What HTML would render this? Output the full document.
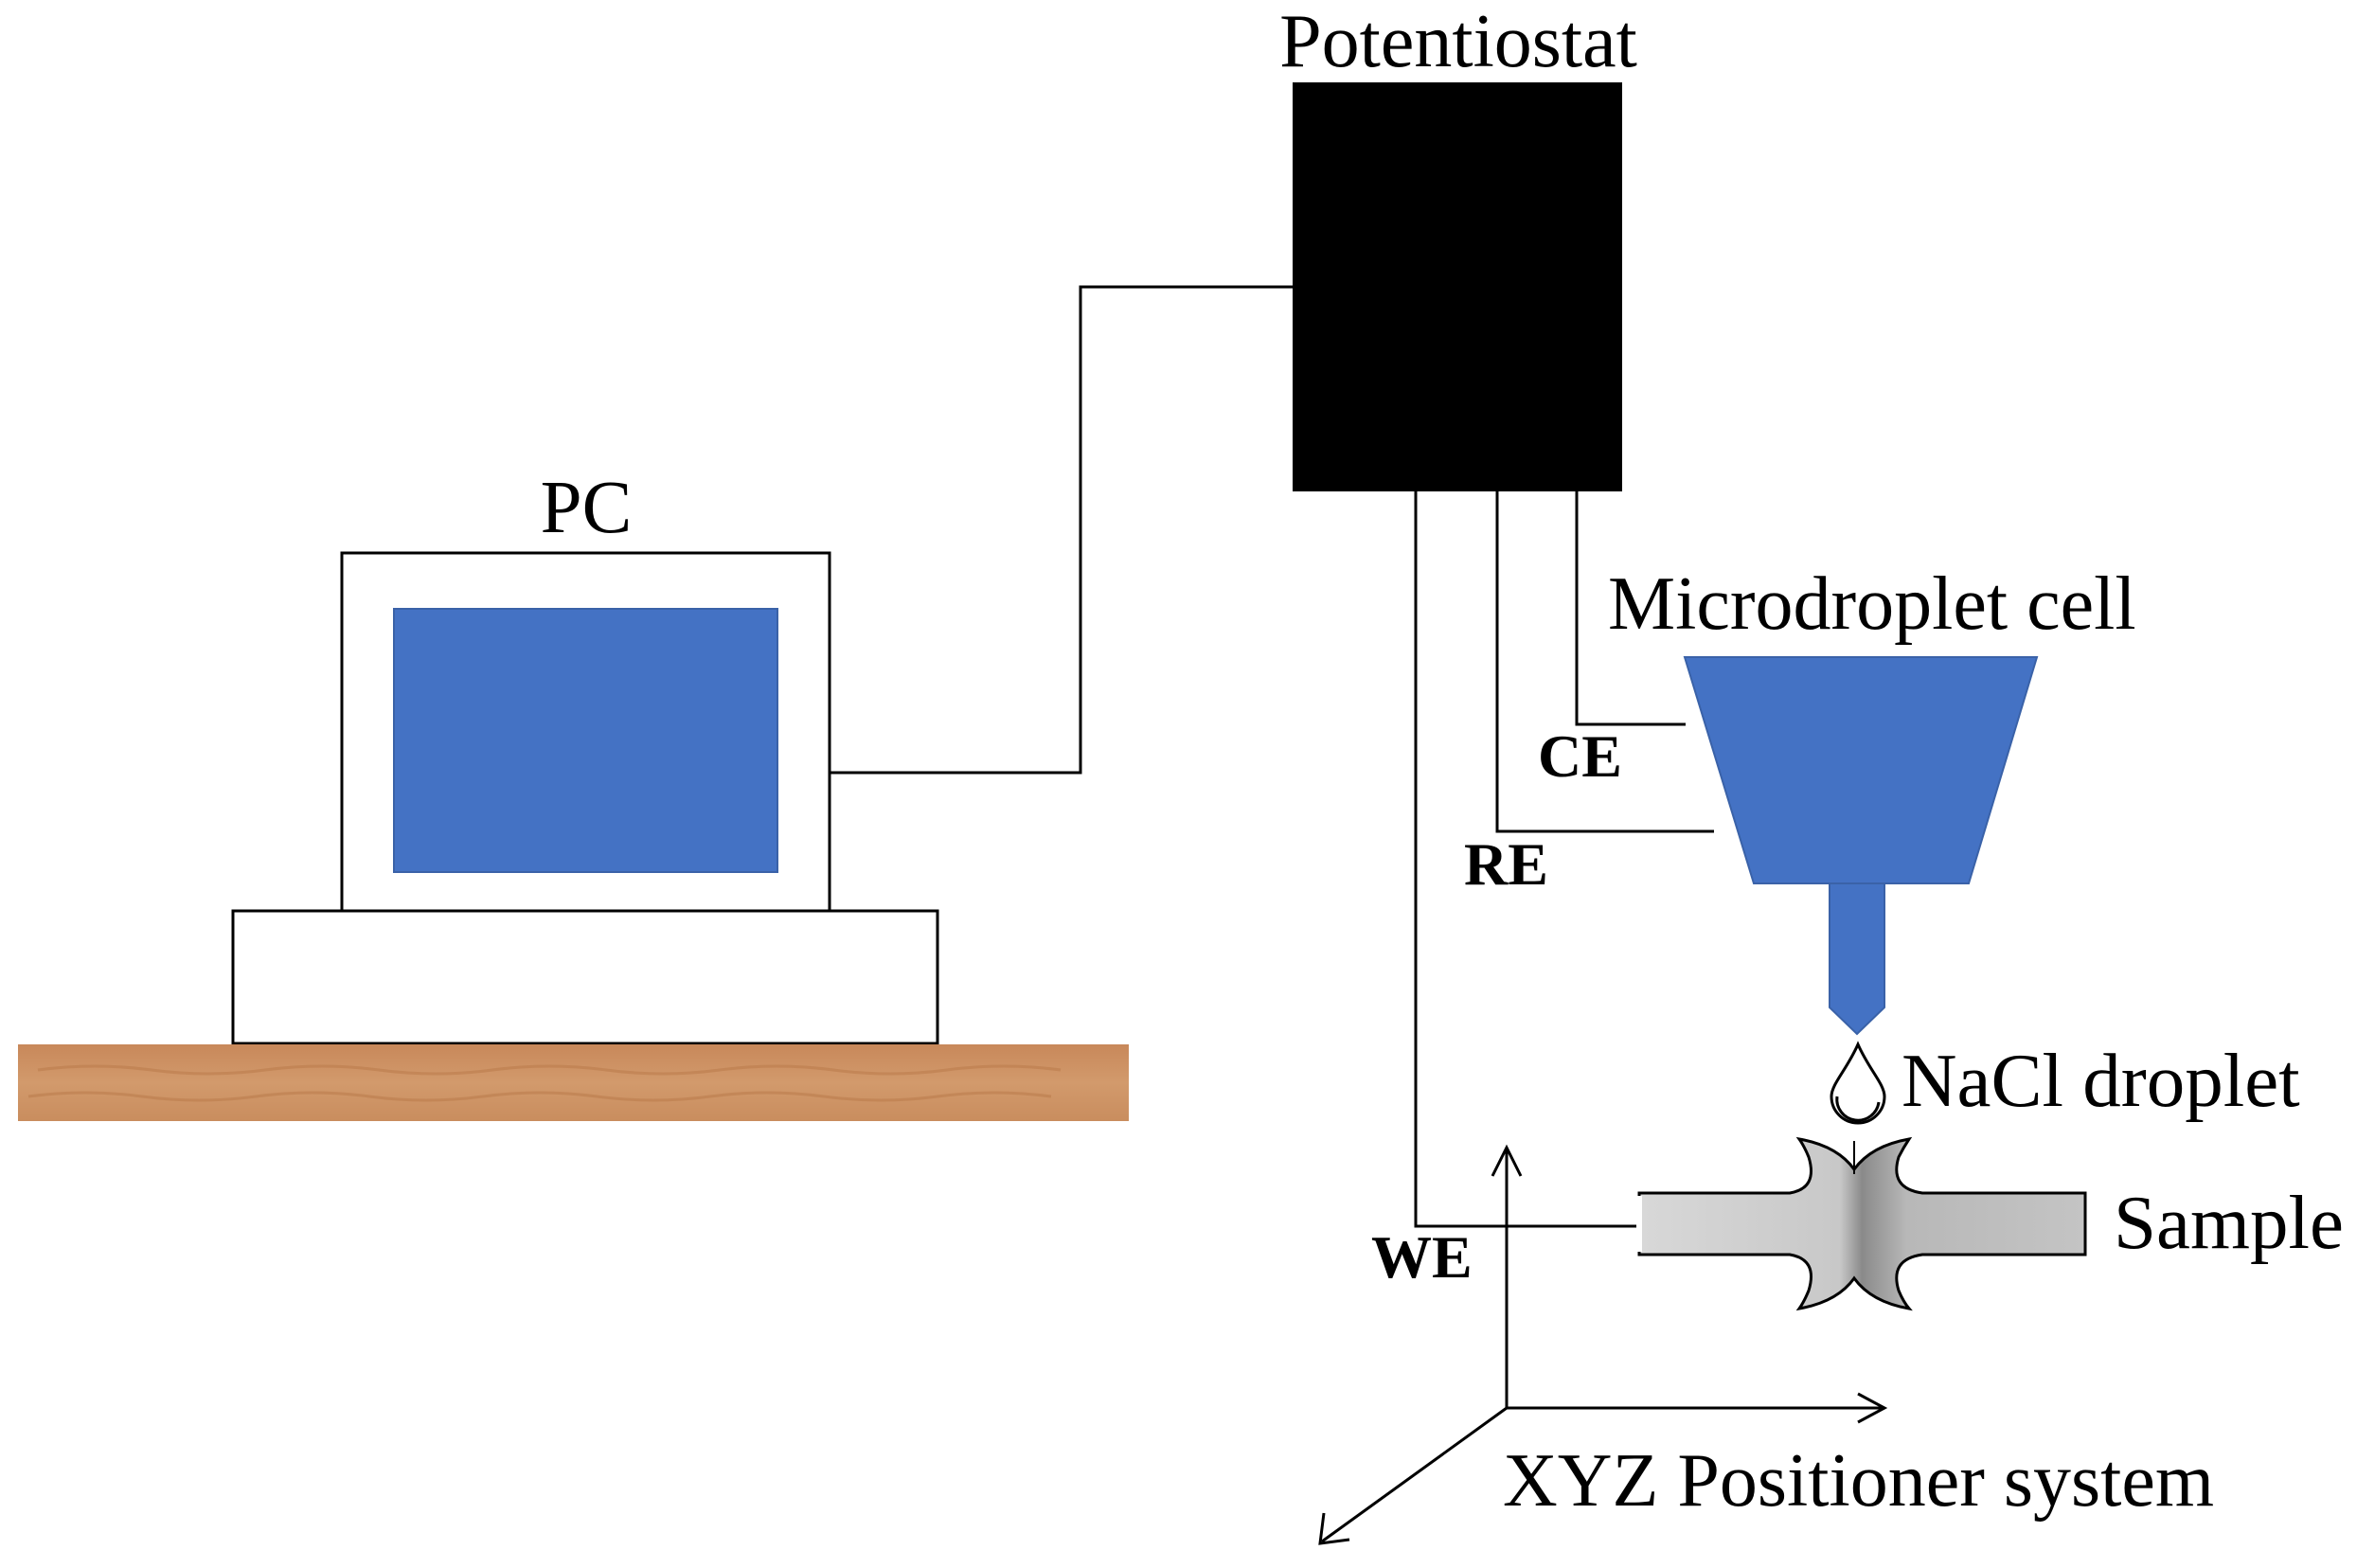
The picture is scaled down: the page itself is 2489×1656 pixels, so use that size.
<!DOCTYPE html>
<html><head><meta charset="utf-8"><style>html,body{margin:0;padding:0;background:#fff}svg{display:block}</style></head><body>
<svg width="2489" height="1656" viewBox="0 0 2489 1656" xmlns="http://www.w3.org/2000/svg" font-family="Liberation Serif, serif">
<defs>
<linearGradient id="wood" x1="0" y1="0" x2="0" y2="1">
<stop offset="0" stop-color="#c8885a"/><stop offset="0.5" stop-color="#d29a6c"/><stop offset="1" stop-color="#c98d5e"/></linearGradient>
<linearGradient id="metal" x1="0" y1="0" x2="1" y2="0">
<stop offset="0" stop-color="#d8d8d8"/><stop offset="0.45" stop-color="#c8c8c8"/><stop offset="0.5" stop-color="#8a8a8a"/><stop offset="0.6" stop-color="#b8b8b8"/><stop offset="1" stop-color="#c4c4c4"/></linearGradient>
</defs>
<!-- Potentiostat -->
<text x="1540" y="70" font-size="80" text-anchor="middle">Potentiostat</text>
<rect x="1365" y="87" width="348" height="432" fill="#000"/>
<polyline points="1365,303 1141,303 1141,816 876,816" fill="none" stroke="#000" stroke-width="3"/>
<!-- PC -->
<text x="619" y="562" font-size="79" text-anchor="middle">PC</text>
<rect x="361" y="584" width="515" height="378" fill="#fff" stroke="#000" stroke-width="3"/>
<rect x="416" y="643" width="405" height="278" fill="#4472c4" stroke="#3a62a8" stroke-width="2"/>
<rect x="246" y="962" width="744" height="140" fill="#fff" stroke="#000" stroke-width="3"/>
<rect x="19" y="1103" width="1173" height="81" fill="url(#wood)"/>
<path d="M40 1130 q60 -8 120 0 t120 0 t120 0 t120 0 t120 0 t120 0 t120 0 t120 0 t120 0 M30 1158 q60 -8 120 0 t120 0 t120 0 t120 0 t120 0 t120 0 t120 0 t120 0 t120 0" fill="none" stroke="#b87848" stroke-width="3" opacity="0.5"/>
<!-- leads -->
<polyline points="1495,519 1495,1295 1794,1295" fill="none" stroke="#000" stroke-width="3"/>
<polyline points="1581,519 1581,878 1810,878" fill="none" stroke="#000" stroke-width="3"/>
<polyline points="1665,519 1665,765 1780,765" fill="none" stroke="#000" stroke-width="3"/>
<text x="1624" y="820" font-size="64" font-weight="bold">CE</text>
<text x="1546" y="934" font-size="64" font-weight="bold">RE</text>
<text x="1448" y="1349" font-size="64" font-weight="bold">WE</text>
<!-- Microdroplet cell -->
<text x="1698" y="664" font-size="80">Microdroplet cell</text>
<polygon points="1779,694 2151,694 2079,933 1852,933" fill="#4472c4" stroke="#3a62a8" stroke-width="2"/>
<polygon points="1932,933 1990,933 1990,1064 1961,1092 1932,1064" fill="#4472c4" stroke="#3a62a8" stroke-width="2"/>
<path d="M1962 1103 C1950 1130 1934 1145 1934 1158 A28 28 0 0 0 1990 1158 C1990 1145 1974 1130 1962 1103 Z" fill="#fff" stroke="#000" stroke-width="3"/>
<path d="M1940 1158 A22 22 0 0 0 1984 1164" fill="none" stroke="#000" stroke-width="3"/>
<text x="2008" y="1168" font-size="81">NaCl droplet</text>
<!-- sample -->
<path d="M1731 1260 L1890 1260 Q1920 1255 1910 1222 Q1905 1210 1900 1203 Q1940 1210 1958 1235 Q1976 1210 2016 1203 Q2010 1212 2005 1222 Q1995 1255 2030 1260 L2202 1260 L2202 1325 L2030 1325 Q1995 1330 2005 1363 Q2010 1375 2016 1382 Q1976 1375 1958 1350 Q1940 1375 1900 1382 Q1905 1375 1910 1363 Q1920 1330 1890 1325 L1731 1325 Z" fill="url(#metal)" stroke="#000" stroke-width="3"/>
<rect x="1728" y="1263" width="6" height="59" fill="#fff"/>
<line x1="1958" y1="1205" x2="1958" y2="1240" stroke="#000" stroke-width="2"/>
<text x="2232" y="1318" font-size="81">Sample</text>
<!-- axes -->
<g fill="none" stroke="#000" stroke-width="3">
<line x1="1591" y1="1487" x2="1591" y2="1213"/>
<polyline points="1576,1242 1591,1212 1606,1242"/>
<line x1="1591" y1="1487" x2="1987" y2="1487"/>
<polyline points="1962,1472 1990,1487 1962,1502"/>
<line x1="1591" y1="1487" x2="1396" y2="1628"/>
<polyline points="1398,1598 1394,1630 1425,1626"/>
</g>
<text x="1587" y="1590" font-size="80">XYZ Positioner system</text>
</svg>
</body></html>
